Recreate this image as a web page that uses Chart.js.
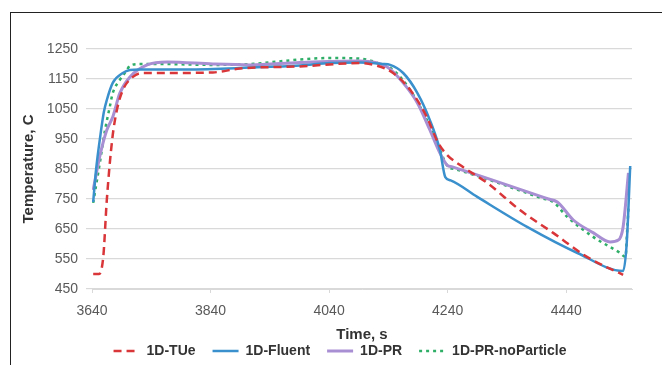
<!DOCTYPE html>
<html>
<head>
<meta charset="utf-8">
<script src="https://cdn.jsdelivr.net/npm/chart.js@4/dist/chart.umd.min.js"></script>
<style>
  html, body { margin: 0; padding: 0; background: #fff; }
  #wrap { position: relative; width: 662px; height: 365px; overflow: hidden; }
  #frame { position: absolute; left: 10px; top: 12px; width: 700px; height: 400px;
           border-left: 1.5px solid #222; border-top: 1.5px solid #222; }
  canvas { position: absolute; left: 0; top: 0; }
</style>
</head>
<body>
<div id="wrap">
  <div id="frame"></div>
  <canvas id="c" width="662" height="365"></canvas>
</div>
<script>
// ---- data ----
const seriesNames = ["1D-TUe", "1D-Fluent", "1D-PR", "1D-PR-noParticle"];
const xTickValues = [3640, 3840, 4040, 4240, 4440];
const yTickValues = [450, 550, 650, 750, 850, 950, 1050, 1150, 1250];

const tueTime = [3642, 3652, 3659, 3665, 3674, 3682, 3692, 3709, 3726, 3760, 3844, 3890, 3991, 4092, 4120, 4148, 4177, 4205, 4224, 4239, 4261, 4307, 4362, 4418, 4475, 4536];
const tueTemp = [500, 500, 557, 747, 947, 1047, 1113, 1157, 1170, 1170, 1172, 1185, 1192, 1203, 1195, 1170, 1113, 1023, 937, 897, 863, 803, 713, 637, 557, 497];

const fluentTime = [3642, 3647, 3654, 3660, 3665, 3675, 3692, 3704, 3721, 3800, 3907, 3991, 4042, 4092, 4130, 4143, 4165, 4189, 4210, 4227, 4236, 4245, 4290, 4374, 4459, 4536, 4542, 4548];
const fluentTemp = [740, 850, 960, 1040, 1080, 1137, 1170, 1180, 1182, 1182, 1188, 1195, 1203, 1205, 1200, 1197, 1170, 1103, 1013, 913, 823, 812, 757, 657, 570, 510, 600, 860];

const prTime = [3642, 3654, 3665, 3675, 3687, 3704, 3733, 3767, 3844, 3907, 3991, 4092, 4138, 4165, 4189, 4210, 4227, 4239, 4248, 4410, 4425, 4452, 4486, 4514, 4528, 4536, 4545];
const prTemp = [780, 900, 980, 1023, 1103, 1157, 1197, 1207, 1200, 1197, 1205, 1210, 1190, 1137, 1070, 980, 903, 863, 857, 750, 740, 680, 637, 607, 613, 657, 837];

const npTime = [3642, 3654, 3662, 3670, 3675, 3687, 3699, 3704, 3721, 3755, 3844, 3907, 3991, 4042, 4092, 4120, 4148, 4177, 4205, 4227, 4241, 4250, 4400, 4418, 4442, 4486, 4531, 4540, 4543, 4545];
const npTemp = [737, 880, 980, 1057, 1103, 1147, 1180, 1195, 1200, 1200, 1197, 1200, 1215, 1220, 1218, 1205, 1180, 1113, 1013, 913, 857, 851, 752, 740, 690, 623, 570, 557, 650, 720];

function pts(t, v) { return t.map((x, i) => ({ x: x, y: v[i] })); }

const fam = "'Liberation Sans', Arial, sans-serif";
const tickFont = { family: fam, size: 14 };
const titleFont = { family: fam, size: 15, weight: 'bold', lineHeight: 1 };
const gridColor = '#D9D9D9';

new Chart(document.getElementById('c'), {
  type: 'line',
  data: {
    datasets: [
      { label: seriesNames[0], data: pts(tueTime, tueTemp), borderColor: '#D9363A', borderWidth: 2.5, borderDash: [8, 5] },
      { label: seriesNames[1], data: pts(fluentTime, fluentTemp), borderColor: '#3A90CC', borderWidth: 2.5 },
      { label: seriesNames[2], data: pts(prTime, prTemp), borderColor: '#A88ED2', borderWidth: 3 },
      { label: seriesNames[3], data: pts(npTime, npTemp), borderColor: '#2FAE68', borderWidth: 2.5, borderDash: [3, 4] }
    ]
  },
  options: {
    responsive: false,
    animation: false,
    parsing: false,
    layout: { padding: { left: 48, right: 30, top: 49, bottom: -3 } },
    elements: {
      point: { radius: 0, hoverRadius: 0 },
      line: { fill: false, cubicInterpolationMode: 'monotone' }
    },
    plugins: {
      tooltip: { enabled: false },
      legend: {
        position: 'bottom',
        labels: {
          usePointStyle: true,
          pointStyle: 'line',
          pointStyleWidth: 26,
          padding: 17,
          color: '#333',
          font: { family: fam, size: 14, weight: 'bold' },
          generateLabels: (chart) => {
            const items = Chart.defaults.plugins.legend.labels.generateLabels(chart);
            items.forEach(it => {
              const ds = chart.data.datasets[it.datasetIndex];
              it.lineDash = ds.borderDash || [];
              it.lineWidth = ds.borderWidth;
              it.strokeStyle = ds.borderColor;
              it.fillStyle = ds.borderColor;
              it.lineCap = 'butt';
            });
            return items;
          }
        }
      }
    },
    scales: {
      x: {
        type: 'linear',
        min: 3640,
        max: 4551,
        afterBuildTicks: s => { s.ticks = xTickValues.map(v => ({ value: v })); },
        afterFit: s => { s.height = 38; },
        ticks: { color: '#595959', font: tickFont, padding: 10, maxRotation: 0, autoSkip: false, callback: v => String(v) },
        grid: { display: true, drawOnChartArea: false, drawTicks: true, tickLength: 4, color: gridColor },
        border: { display: true, color: gridColor, width: 1 },
        title: { display: true, text: 'Time, s', color: '#333', font: titleFont, padding: { top: 0, bottom: -15.5 } }
      },
      y: {
        type: 'linear',
        min: 450,
        max: 1250,
        afterBuildTicks: s => { s.ticks = yTickValues.map(v => ({ value: v })); },
        afterFit: s => { s.width = 44; },
        ticks: { color: '#595959', font: tickFont, padding: 8, callback: v => String(v) },
        grid: { color: gridColor, lineWidth: 1.2, drawTicks: true, tickLength: 6 },
        border: { display: false },
        title: { display: true, text: 'Temperature, C', color: '#333', font: titleFont, padding: { top: -26.5, bottom: 0 } }
      }
    }
  }
});
</script>
</body>
</html>
